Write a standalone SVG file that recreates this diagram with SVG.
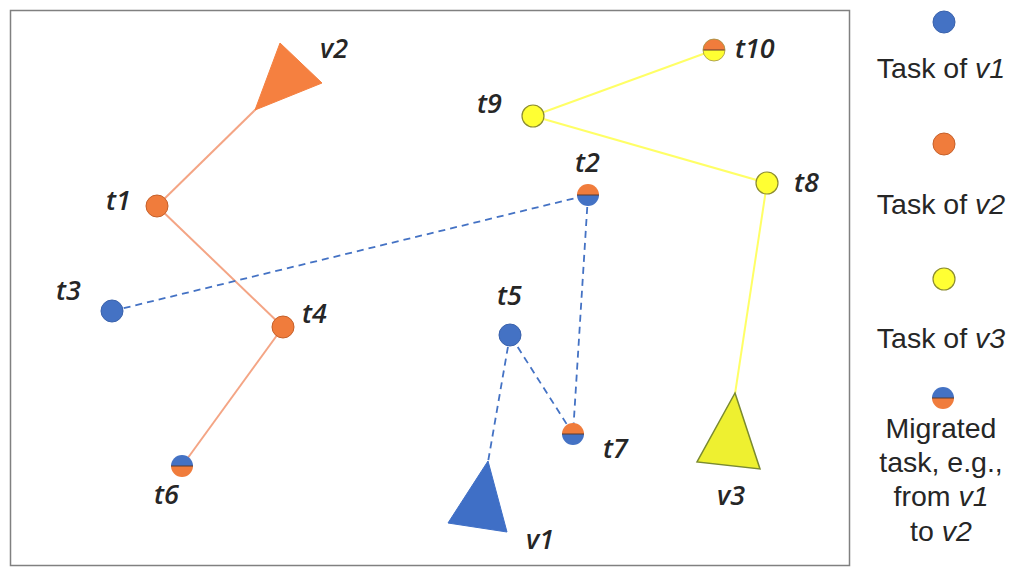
<svg xmlns="http://www.w3.org/2000/svg" width="1013" height="571" viewBox="0 0 1013 571">
<style>
.lbl{font-family:"Open Sans","Liberation Sans",sans-serif;font-style:italic;font-weight:600;font-size:27px;fill:#262626}
.leg{font-family:"Liberation Sans",Arial,sans-serif;font-size:28.5px;fill:#262626;text-anchor:middle}
.blue{fill:#4472C4;stroke:#3A62AC;stroke-width:1}
.orange{fill:#F07C3C;stroke:#C5602A;stroke-width:1}
.yellow{fill:#FFFF33;stroke:#8C8C30;stroke-width:1.2}
.lo{stroke:#F4A585;stroke-width:2;fill:none}
.ly{stroke:#FFFF66;stroke-width:2;fill:none}
.lb{stroke:#4472C4;stroke-width:1.8;fill:none;stroke-dasharray:7,5}
</style>
<defs>
<path id="top" d="M-11,0 A11,11 0 0 1 11,0 Z"/>
<path id="bot" d="M-11,0 A11,11 0 0 0 11,0 Z"/>
<g id="mig-bo"><use href="#top" fill="#4472C4"/><use href="#bot" fill="#F07C3C"/><line x1="-11" y1="0" x2="11" y2="0" stroke="#5a3a30" stroke-width="1"/></g>
<g id="mig-ob"><use href="#top" fill="#F07C3C"/><use href="#bot" fill="#4472C4"/><line x1="-11" y1="0" x2="11" y2="0" stroke="#5a3a30" stroke-width="1"/></g>
<g id="mig-oy"><use href="#top" fill="#F07C3C"/><use href="#bot" fill="#FFFF33"/><line x1="-11" y1="0" x2="11" y2="0" stroke="#5a3a30" stroke-width="1"/><circle r="11" fill="none" stroke="#A09040" stroke-width="0.8"/></g>
</defs>
<rect x="0" y="0" width="1013" height="571" fill="#ffffff"/>
<rect x="10.5" y="10.5" width="839" height="555" fill="none" stroke="#808080" stroke-width="1.5"/>

<g id="connectors">
<line class="lo" x1="256" y1="109" x2="157" y2="206"/>
<line class="lo" x1="157" y1="206" x2="283" y2="327"/>
<line class="lo" x1="283" y1="327" x2="182" y2="466"/>
<line class="lb" x1="112" y1="311" x2="588" y2="195"/>
<line class="lb" x1="588" y1="195" x2="573" y2="434"/>
<line class="lb" x1="573" y1="434" x2="510" y2="335"/>
<line class="lb" x1="510" y1="335" x2="488" y2="462"/>
<line class="ly" x1="533" y1="116" x2="714" y2="50"/>
<line class="ly" x1="533" y1="116" x2="767" y2="183"/>
<line class="ly" x1="767" y1="183" x2="735" y2="394"/>
</g>

<g id="v2"><polygon points="280,43 322,83 255,110" fill="#F58040" stroke="#F58040" stroke-width="1"/><text class="lbl" x="320" y="58">v2</text></g>
<g id="v1"><polygon points="488,461 507,532 448,523" fill="#3F6FC6" stroke="#3F6FC6" stroke-width="1"/><text class="lbl" x="526" y="549">v1</text></g>
<g id="v3"><polygon points="735,393 760,469 697,462" fill="#EEF030" stroke="#7A8A30" stroke-width="1.5"/><text class="lbl" x="717" y="505">v3</text></g>

<g id="t1"><circle class="orange" cx="157" cy="206" r="11"/><text class="lbl" x="106" y="210">t1</text></g>
<g id="t3"><circle class="blue" cx="112" cy="311" r="11"/><text class="lbl" x="56" y="300">t3</text></g>
<g id="t4"><circle class="orange" cx="283" cy="327" r="11"/><text class="lbl" x="302" y="323">t4</text></g>
<g id="t6"><use href="#mig-bo" x="182" y="466"/><text class="lbl" x="154" y="504">t6</text></g>
<g id="t2"><use href="#mig-ob" x="588" y="195"/><text class="lbl" x="575" y="172">t2</text></g>
<g id="t5"><circle class="blue" cx="510" cy="335" r="11"/><text class="lbl" x="497" y="305">t5</text></g>
<g id="t7"><use href="#mig-ob" x="573" y="434"/><text class="lbl" x="603" y="458">t7</text></g>
<g id="t8"><circle class="yellow" cx="767" cy="183" r="11"/><text class="lbl" x="794" y="192">t8</text></g>
<g id="t9"><circle class="yellow" cx="533" cy="116" r="11"/><text class="lbl" x="477" y="113">t9</text></g>
<g id="t10"><use href="#mig-oy" x="714" y="50"/><text class="lbl" x="735" y="58">t10</text></g>

<g id="legend">
<circle class="blue" cx="944" cy="22" r="11"/>
<text class="leg" x="941" y="78">Task of <tspan font-style="italic">v1</tspan></text>
<circle class="orange" cx="944" cy="144" r="11"/>
<text class="leg" x="941" y="214">Task of <tspan font-style="italic">v2</tspan></text>
<circle class="yellow" cx="944" cy="279" r="11"/>
<text class="leg" x="941" y="348">Task of <tspan font-style="italic">v3</tspan></text>
<use href="#mig-bo" x="943" y="398"/>
<text class="leg" x="941" y="438">Migrated</text>
<text class="leg" x="941" y="472">task, e.g.,</text>
<text class="leg" x="941" y="506">from <tspan font-style="italic">v1</tspan></text>
<text class="leg" x="941" y="541">to <tspan font-style="italic">v2</tspan></text>
</g>
</svg>
